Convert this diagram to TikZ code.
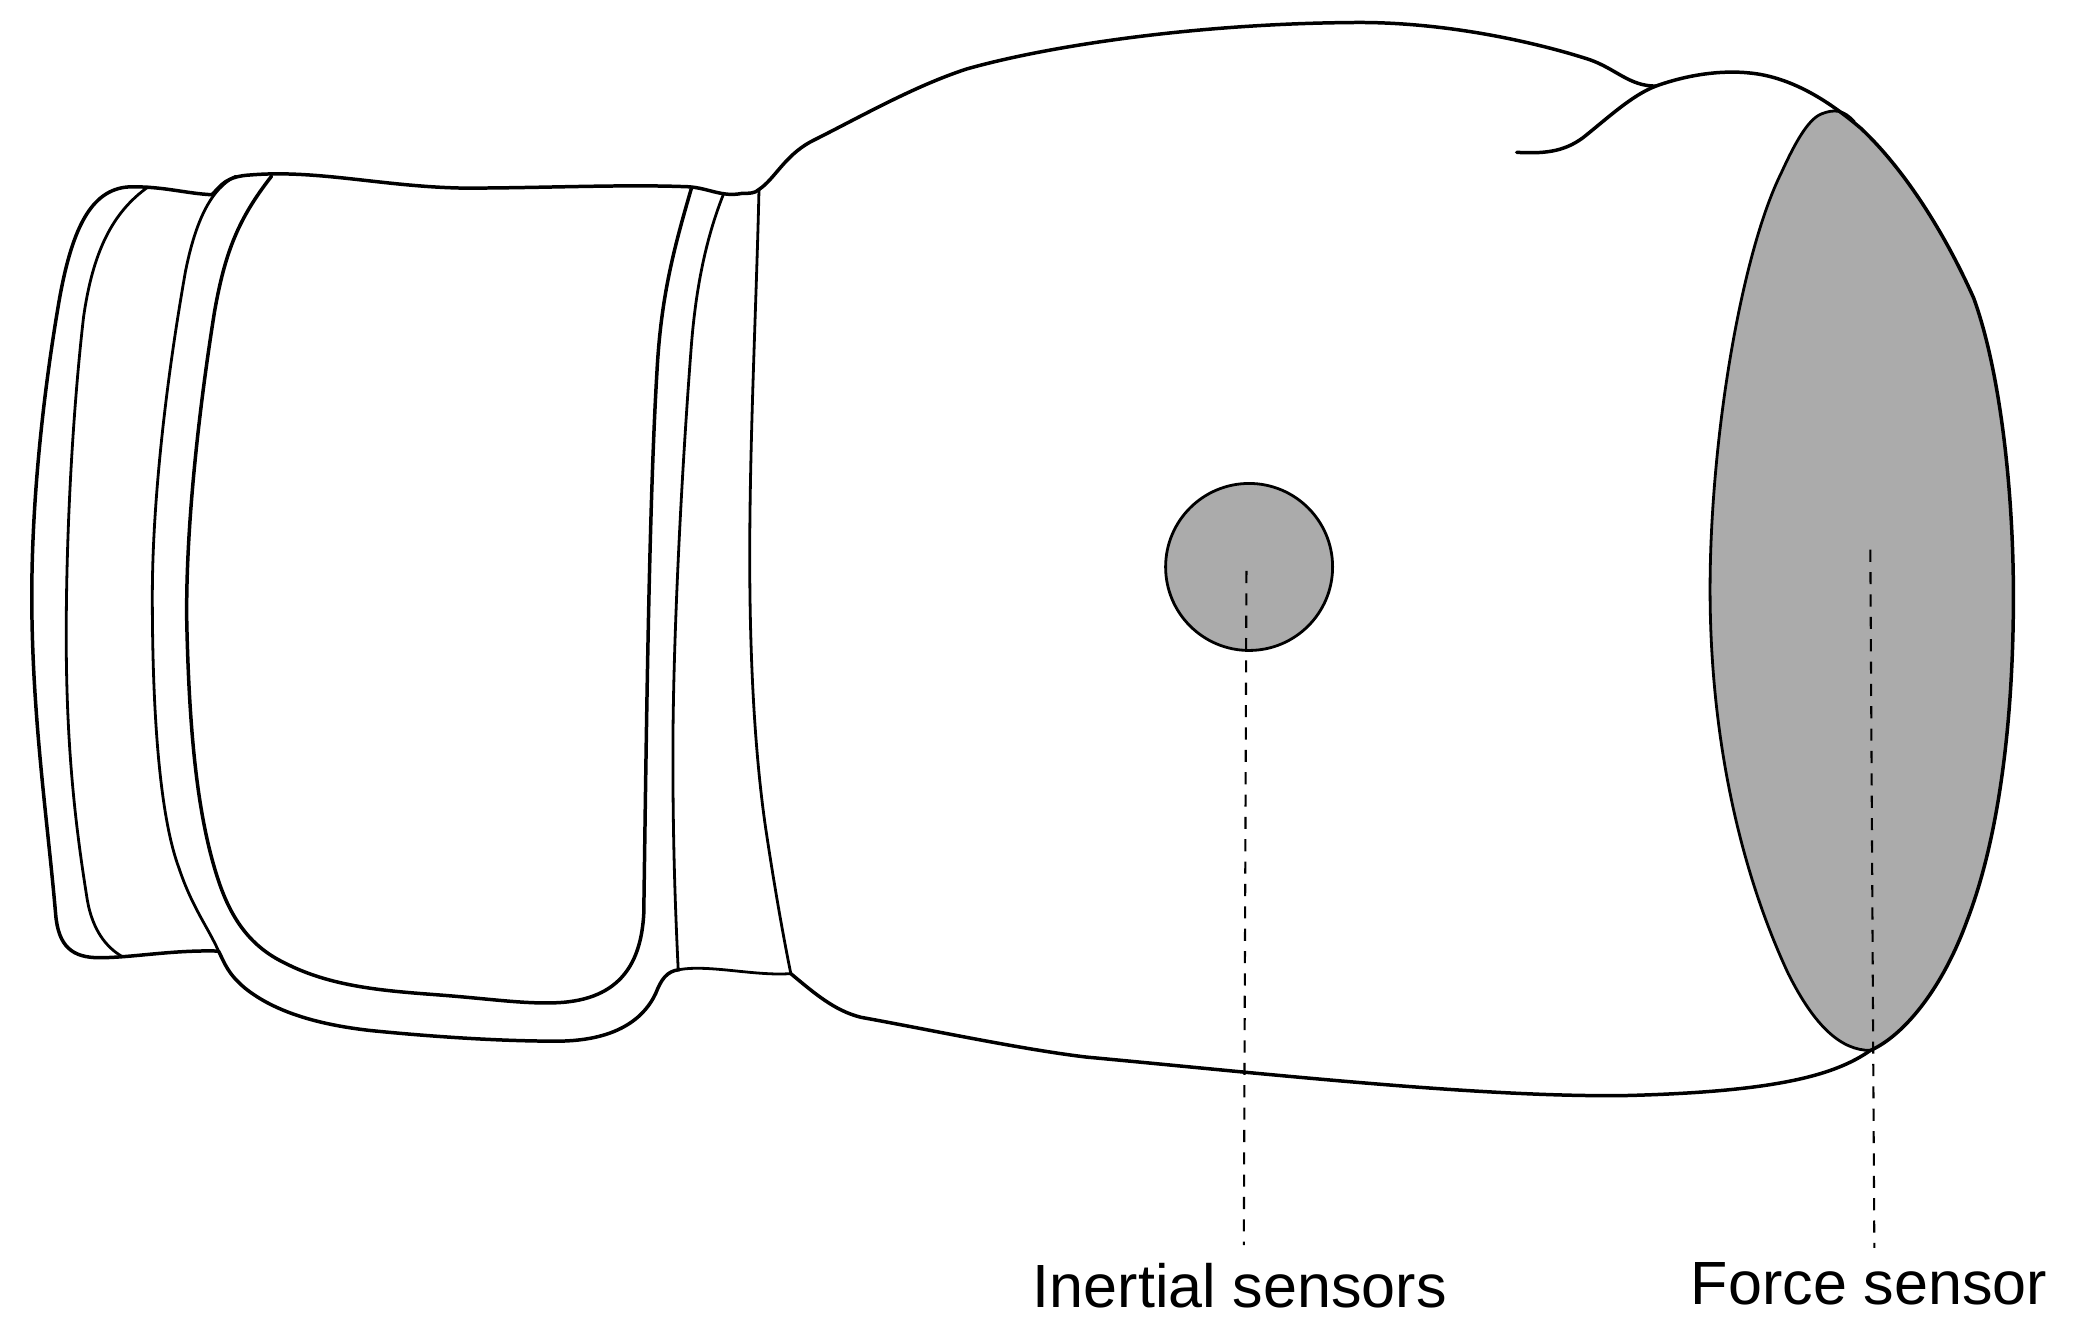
\documentclass[tikz,border=0pt]{standalone}
\usepackage{fontspec}
\setmainfont{Liberation Sans}
\definecolor{sensorgray}{HTML}{ABABAB}
\tikzset{
  outline/.style={draw=black,line width=0.6pt,line join=round,line cap=round},
  heavy/.style={outline,line width=0.75pt},
  sensor/.style={outline,fill=sensorgray},
  leader/.style={draw=black,line width=0.45pt,dash pattern=on 2.6pt off 2.2pt},
  lbl/.style={font=\fontsize{13.1pt}{16pt}\selectfont,inner sep=0pt,anchor=base}
}
\begin{document}
\begin{tikzpicture}[x=0.01cm,y=-0.01cm]
\useasboundingbox (0,0) rectangle (1568,1011);
% gray force sensor
\path[fill=sensorgray] (1400,92) .. controls (1392,83) and (1385,82) .. (1375,86) .. controls (1365,90) and (1355,108) .. (1345,130) .. controls (1315,190) and (1291,330) .. (1291,445) .. controls (1291,560) and (1315,660) .. (1350,735) .. controls (1370,775) and (1390,793) .. (1412,793) .. controls (1435,783) and (1465,750) .. (1485,695) .. controls (1510,630) and (1520,540) .. (1520,450) .. controls (1520,370) and (1510,280) .. (1490,225) .. controls (1470,180) and (1440,130) .. (1405,97) -- cycle;
\draw[outline] (1400,92) .. controls (1392,83) and (1385,82) .. (1375,86) .. controls (1365,90) and (1355,108) .. (1345,130) .. controls (1315,190) and (1291,330) .. (1291,445) .. controls (1291,560) and (1315,660) .. (1350,735) .. controls (1370,775) and (1390,793) .. (1412,793);
% inertial sensor
\node[sensor,circle,minimum size=1.26cm,inner sep=0pt] (inertial) at (943,428) {};
% cuff
\draw[heavy] (160,147) .. controls (140,146) and (125,141) .. (100,141) .. controls (70,141) and (55,170) .. (45,225) .. controls (32,300) and (24,380) .. (24,450) .. controls (24,540) and (36,620) .. (42,690) .. controls (44,715) and (55,723) .. (75,723) .. controls (100,723) and (130,717) .. (165,718);
\draw[outline] (112,141) .. controls (85,160) and (70,190) .. (63,240) .. controls (55,310) and (50,400) .. (50,480) .. controls (50,570) and (58,630) .. (66,680) .. controls (70,702) and (80,715) .. (92,722);
\draw[outline] (178,133) .. controls (160,142) and (148,165) .. (140,205) .. controls (125,290) and (115,380) .. (115,450) .. controls (115,550) and (122,620) .. (135,655) .. controls (145,685) and (157,700) .. (165,718);
\draw[heavy] (165,718) .. controls (170,728) and (172,735) .. (185,746) .. controls (205,762) and (235,773) .. (280,778) .. controls (330,783) and (380,786) .. (420,786) .. controls (470,786) and (488,765) .. (495,750) .. controls (499,740) and (503,733) .. (513,732);
\draw[heavy] (205,133) .. controls (180,165) and (170,190) .. (162,235) .. controls (150,310) and (140,400) .. (141,470) .. controls (143,560) and (150,620) .. (165,665) .. controls (175,695) and (190,715) .. (215,727) .. controls (250,745) and (290,748) .. (330,751) .. controls (370,754) and (395,758) .. (420,757) .. controls (470,755) and (484,725) .. (486,690) .. controls (488,550) and (490,380) .. (496,280) .. controls (499,225) and (508,190) .. (522,142);
\draw[heavy] (160,147) .. controls (167,140) and (170,133) .. (190,132) .. controls (240,128) and (290,141) .. (350,142) .. controls (410,142) and (470,139) .. (520,141) .. controls (535,142) and (545,149) .. (560,146) .. controls (566,146) and (570,146) .. (573,143);
\draw[outline] (546,147) .. controls (535,175) and (526,210) .. (522,260) .. controls (515,350) and (508,480) .. (508,570) .. controls (508,640) and (510,690) .. (512,732);
\draw[outline] (573,143) .. controls (571,230) and (566,330) .. (566,420) .. controls (566,500) and (570,570) .. (578,625) .. controls (584,665) and (590,700) .. (597,735);
\draw[outline] (513,732) .. controls (535,728) and (570,737) .. (597,735);
% body
\draw[heavy] (573,143) .. controls (585,135) and (592,118) .. (612,107) .. controls (650,88) and (690,65) .. (730,52) .. controls (790,35) and (900,18) .. (1020,17) .. controls (1090,16) and (1160,32) .. (1200,45) .. controls (1220,52) and (1230,65) .. (1250,65);
\draw[heavy] (1145,115) .. controls (1165,116) and (1180,115) .. (1195,104) .. controls (1215,88) and (1232,72) .. (1250,65) .. controls (1275,56) and (1300,53) .. (1320,55) .. controls (1355,58) and (1385,80) .. (1405,97) .. controls (1440,130) and (1470,180) .. (1490,225) .. controls (1510,280) and (1520,370) .. (1520,450) .. controls (1520,540) and (1510,630) .. (1485,695) .. controls (1465,750) and (1435,783) .. (1412,793) .. controls (1385,812) and (1340,824) .. (1230,827) .. controls (1120,829) and (950,810) .. (820,798) .. controls (770,792) and (700,777) .. (650,768) .. controls (630,763) and (615,750) .. (597,735);
% labels and leaders
\coordinate (istart) at (941,431);
\coordinate (iend) at (939,940);
\coordinate (fstart) at (1412,415);
\coordinate (fend) at (1415,942);
\draw[leader] (istart) -- (iend);
\draw[leader] (fstart) -- (fend);
\node[lbl] (ilabel) at (936,987) {Inertial sensors};
\node[lbl] (flabel) at (1411,985) {Force sensor};
\end{tikzpicture}
\end{document}
